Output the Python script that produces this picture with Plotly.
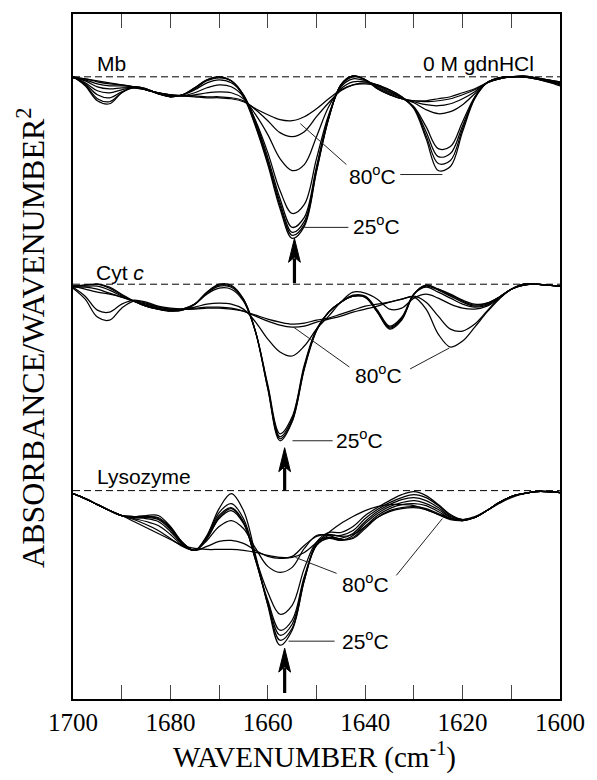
import plotly.graph_objects as go

# ---------------- data (second-derivative depth below each baseline, arbitrary units) -------------
wavenumber = [1700.0, 1697.5, 1695.0, 1692.5, 1690.0, 1687.5, 1685.0, 1682.5, 1680.0, 1677.5,
              1675.0, 1672.5, 1670.0, 1667.5, 1665.0, 1662.5, 1660.0, 1657.5, 1655.0, 1652.5,
              1650.0, 1647.5, 1645.0, 1642.5, 1640.0, 1637.5, 1635.0, 1632.5, 1630.0, 1627.5,
              1625.0, 1622.5, 1620.0, 1617.5, 1615.0, 1612.5, 1610.0, 1607.5, 1605.0, 1602.5,
              1600.0]

mb_temps = ["25", "35", "45", "55", "60", "65", "70", "80"]
mb_depth = [
    [0, 9, 24, 27, 16, 10, 12, 17, 20, 18, 11, 3, 0, 4, 20, 50, 88, 132, 162, 150, 95, 42, 8, -1, 3, 12, 18, 22, 24, 24, 22, 20, 16, 12, 6, 2, 0, -1, 1, 4, 8],
    [0, 8, 22, 25, 16, 10, 12, 17, 20, 18, 11, 3, 0, 4, 19, 49, 86, 129, 159, 148, 94, 42, 8, -1, 3, 12, 18, 22, 24, 25, 24, 22, 18, 13, 6, 2, 0, -1, 1, 4, 7],
    [0, 7, 18, 21, 15, 11, 12, 17, 20, 18, 12, 4, 1, 4, 18, 47, 84, 126, 156, 145, 92, 41, 8, -1, 3, 11, 17, 22, 25, 28, 29, 27, 22, 15, 6, 2, 0, 0, 1, 3, 6],
    [0, 6, 14, 16, 13, 11, 13, 17, 19, 18, 13, 6, 3, 6, 18, 45, 81, 122, 151, 141, 90, 40, 9, 0, 3, 10, 16, 21, 26, 33, 37, 35, 28, 17, 6, 2, 0, 0, 1, 3, 5],
    [1, 4, 10, 12, 11, 11, 13, 16, 19, 19, 16, 11, 8, 10, 20, 44, 76, 114, 137, 128, 82, 38, 10, 2, 4, 9, 15, 21, 30, 50, 72, 70, 45, 20, 6, 1, 0, 0, 1, 3, 5],
    [1, 3, 7, 9, 9, 10, 13, 16, 18, 19, 18, 16, 15, 16, 22, 38, 58, 82, 94, 88, 60, 30, 12, 5, 5, 8, 14, 21, 31, 55, 80, 77, 49, 21, 6, 1, 0, 0, 2, 4, 6],
    [1, 2, 5, 7, 8, 10, 13, 16, 18, 19, 19, 20, 20, 21, 24, 33, 44, 56, 60, 55, 40, 26, 14, 8, 6, 8, 13, 20, 31, 59, 87, 84, 52, 21, 6, 1, 0, 0, 2, 5, 7],
    [0, 2, 4, 6, 8, 10, 13, 16, 18, 19, 20, 21, 21, 22, 25, 32, 38, 43, 44, 40, 32, 22, 13, 8, 7, 9, 13, 20, 32, 62, 94, 90, 55, 22, 6, 1, 0, 0, 2, 5, 9],
]

cyt_temps = ["25", "35", "45", "55", "65", "75", "80"]
cyt_depth = [
    [2, 1, 0, 3, 10, 17, 22, 25, 27, 26, 20, 8, 0, 1, 15, 48, 105, 157, 138, 85, 47, 28, 18, 12, 13, 28, 45, 36, 10, 1, 5, 10, 16, 20, 19, 13, 5, 0, 0, 1, 2],
    [2, 1, 0, 4, 11, 17, 22, 25, 27, 26, 20, 8, 1, 2, 15, 48, 104, 155, 137, 84, 46, 28, 18, 12, 13, 28, 44, 35, 10, 1, 5, 11, 17, 21, 19, 13, 5, 0, 0, 1, 2],
    [2, 2, 2, 6, 12, 17, 22, 25, 26, 25, 20, 9, 2, 3, 16, 48, 103, 153, 135, 83, 46, 28, 18, 12, 13, 27, 43, 34, 10, 2, 6, 12, 18, 22, 20, 13, 5, 0, 0, 1, 2],
    [3, 3, 5, 9, 13, 17, 21, 24, 26, 25, 20, 10, 4, 5, 17, 48, 101, 150, 133, 81, 45, 28, 18, 11, 12, 26, 42, 33, 10, 3, 8, 14, 20, 23, 21, 13, 5, 1, 0, 1, 2],
    [2, 5, 8, 10, 13, 17, 20, 23, 25, 25, 23, 20, 19, 20, 25, 38, 55, 68, 72, 62, 45, 32, 18, 8, 9, 15, 25, 24, 14, 10, 14, 20, 24, 25, 22, 14, 5, 1, 0, 1, 2],
    [3, 12, 26, 28, 20, 16, 18, 22, 24, 25, 25, 24, 24, 25, 27, 31, 35, 38, 40, 39, 36, 34, 30, 26, 22, 20, 18, 15, 12, 18, 32, 45, 47, 40, 27, 14, 5, 1, 0, 1, 2],
    [4, 15, 33, 36, 24, 17, 19, 23, 25, 25, 24, 23, 23, 24, 27, 32, 37, 41, 43, 42, 38, 35, 32, 28, 25, 22, 18, 15, 13, 25, 50, 63, 57, 43, 28, 15, 5, 1, 0, 1, 2],
]

lys_temps = ["25", "35", "45", "55", "60", "65", "70", "80"]
lys_depth = [
    [3, 8, 14, 20, 25, 26, 25, 25, 36, 52, 60, 45, 18, 3, 20, 65, 115, 155, 140, 90, 52, 42, 42, 36, 25, 17, 10, 4, 1, 5, 14, 24, 29, 27, 20, 12, 6, 3, 1, 1, 2],
    [3, 8, 14, 20, 25, 26, 26, 27, 37, 52, 60, 46, 22, 13, 28, 68, 114, 150, 138, 90, 54, 45, 45, 40, 28, 19, 12, 7, 4, 7, 15, 25, 29, 27, 20, 12, 6, 3, 1, 1, 2],
    [3, 8, 14, 20, 25, 26, 26, 28, 38, 53, 60, 47, 25, 17, 31, 70, 112, 145, 134, 88, 55, 47, 48, 43, 31, 21, 14, 9, 7, 10, 17, 26, 29, 27, 20, 12, 6, 3, 1, 1, 2],
    [3, 8, 14, 20, 25, 27, 27, 29, 39, 53, 60, 48, 27, 18, 32, 70, 110, 140, 130, 86, 55, 48, 50, 45, 33, 23, 16, 12, 10, 13, 19, 27, 30, 27, 20, 12, 6, 3, 1, 1, 2],
    [3, 8, 14, 20, 25, 27, 28, 31, 41, 54, 60, 48, 28, 20, 33, 68, 102, 124, 115, 78, 52, 47, 50, 47, 36, 25, 18, 14, 13, 15, 21, 28, 30, 27, 20, 12, 6, 3, 1, 1, 2],
    [3, 8, 14, 20, 25, 28, 31, 35, 44, 55, 60, 50, 36, 30, 38, 58, 76, 82, 77, 58, 45, 45, 49, 48, 38, 27, 20, 17, 16, 18, 23, 28, 30, 27, 20, 12, 6, 3, 1, 1, 2],
    [3, 8, 14, 20, 25, 29, 34, 40, 48, 56, 60, 56, 51, 50, 53, 60, 66, 68, 66, 55, 46, 44, 46, 44, 36, 27, 21, 18, 17, 19, 24, 29, 30, 27, 20, 12, 6, 3, 1, 1, 2],
    [3, 8, 14, 20, 25, 31, 37, 43, 49, 55, 58, 59, 59, 59, 60, 62, 65, 67, 67, 62, 52, 42, 33, 26, 20, 16, 14, 14, 15, 19, 24, 28, 29, 26, 20, 13, 7, 3, 1, 1, 2],
]

panel_names = ["Mb", "Cyt <i>c</i>", "Lysozyme"]
panel_offsets = [-75, -283, -490]          # vertical offset of each panel's zero line
panel_peak_wn = [1654.5, 1656.5, 1656.5]   # amide I band marked by arrows
x_ticks = [1700, 1690, 1680, 1670, 1660, 1650, 1640, 1630, 1620, 1610, 1600]
x_tick_text = ["1700", "", "1680", "", "1660", "", "1640", "", "1620", "", "1600"]

for arr in mb_depth + cyt_depth + lys_depth:
    assert len(arr) == len(wavenumber)

# ---------------- geometry helpers (pixel -> axis coordinates) ----------------
L, R, T, B = 73, 570, 12, 699
W, H = 597, 780


def xd(px):
    return 1700 - (px - L) * 100.0 / (R - L)


def yd(py):
    return -py


def xp(px):
    return (px - L) / (R - L)


def yp(py):
    return (B - py) / (B - T)


fig = go.Figure()

for depths, off in zip([mb_depth, cyt_depth, lys_depth], panel_offsets):
    for d in depths:
        fig.add_trace(go.Scatter(
            x=wavenumber, y=[off - v for v in d], mode="lines",
            line=dict(color="black", width=1.25, shape="spline", smoothing=1.0),
            hoverinfo="skip", showlegend=False))

shapes = []
# dashed zero lines
for off in panel_offsets:
    shapes.append(dict(type="line", xref="x", yref="y", x0=1700, x1=1600, y0=off, y1=off,
                       line=dict(color="black", width=1, dash="7px,4px")))

# arrows (shaft + head)
arrow_px = [(299, 282, 237), (289, 490, 447), (289, 693, 648)]
for (xpx, tail, tip) in arrow_px:
    head_len, half_w = 24, 6
    shapes.append(dict(type="line", xref="x", yref="y", x0=xd(xpx), x1=xd(xpx),
                       y0=yd(tail), y1=yd(tip + head_len - 4),
                       line=dict(color="black", width=3.2)))
    path = "M {},{} L {},{} L {},{} L {},{} Z".format(
        xd(xpx), yd(tip),
        xd(xpx - half_w), yd(tip + head_len),
        xd(xpx), yd(tip + head_len - 5),
        xd(xpx + half_w), yd(tip + head_len))
    shapes.append(dict(type="path", xref="x", yref="y", path=path,
                       fillcolor="black", line=dict(color="black", width=1)))

# leader lines for temperature labels
leaders = [
    ((305, 122), (352, 163)), ((407, 173), (450, 173)), ((309, 226), (354, 226)),
    ((298, 326), (355, 366)), ((417, 368), (457, 347)), ((297, 440), (338, 440)),
    ((300, 557), (342, 573)), ((403, 575), (450, 518)), ((293, 641), (340, 641)),
]
for (x0, y0), (x1, y1) in leaders:
    shapes.append(dict(type="line", xref="x", yref="y", x0=xd(x0), y0=yd(y0), x1=xd(x1), y1=yd(y1),
                       line=dict(color="#222", width=1)))

sans = dict(family="Liberation Sans, Arial, sans-serif", size=21, color="black")
serif_x = dict(family="Liberation Serif, Times New Roman, serif", size=29, color="black")
serif_y = dict(family="Liberation Serif, Times New Roman, serif", size=32, color="black")

annotations = []


def label(text, xpx, ypx, anchor="left", font=sans):
    annotations.append(dict(text=text, xref="x", yref="y", x=xd(xpx), y=yd(ypx),
                            xanchor=anchor, yanchor="middle", showarrow=False, font=font))


label(panel_names[0], 95, 62)
label("0 M gdnHCl", 545, 62, anchor="right")
label(panel_names[1], 94, 271)
label(panel_names[2], 95, 476)

deg80 = "80<sup>o</sup>C"
deg25 = "25<sup>o</sup>C"
label(deg80, 353, 173)
label(deg25, 357, 224)
label(deg80, 359, 373)
label(deg25, 339, 438)
label(deg80, 345, 583)
label(deg25, 345, 640)

annotations.append(dict(text="WAVENUMBER (cm<sup>-1</sup>)", xref="paper", yref="paper",
                        x=xp(319), y=yp(756), xanchor="center", yanchor="middle",
                        showarrow=False, font=serif_x))
annotations.append(dict(text="ABSORBANCE/WAVENUMBER<sup>2</sup>", xref="paper", yref="paper",
                        x=xp(30), y=yp(337), xanchor="center", yanchor="middle", textangle=-90,
                        showarrow=False, font=serif_y))

fig.update_layout(
    width=W, height=H,
    margin=dict(l=L, r=W - R, t=T, b=H - B),
    paper_bgcolor="white", plot_bgcolor="white",
    showlegend=False,
    shapes=shapes, annotations=annotations,
    xaxis=dict(range=[1700, 1600], tickmode="array", tickvals=x_ticks, ticktext=x_tick_text,
               ticks="inside", ticklen=14, tickwidth=1, tickcolor="#444",
               showline=True, linewidth=1.5, linecolor="black", mirror="ticks",
               showgrid=False, zeroline=False,
               tickfont=dict(family="Liberation Serif, Times New Roman, serif", size=25, color="black")),
    yaxis=dict(range=[-B, -T], showticklabels=False, ticks="",
               showline=True, linewidth=1.5, linecolor="black", mirror=True,
               showgrid=False, zeroline=False),
)

fig.write_html("out.html")
